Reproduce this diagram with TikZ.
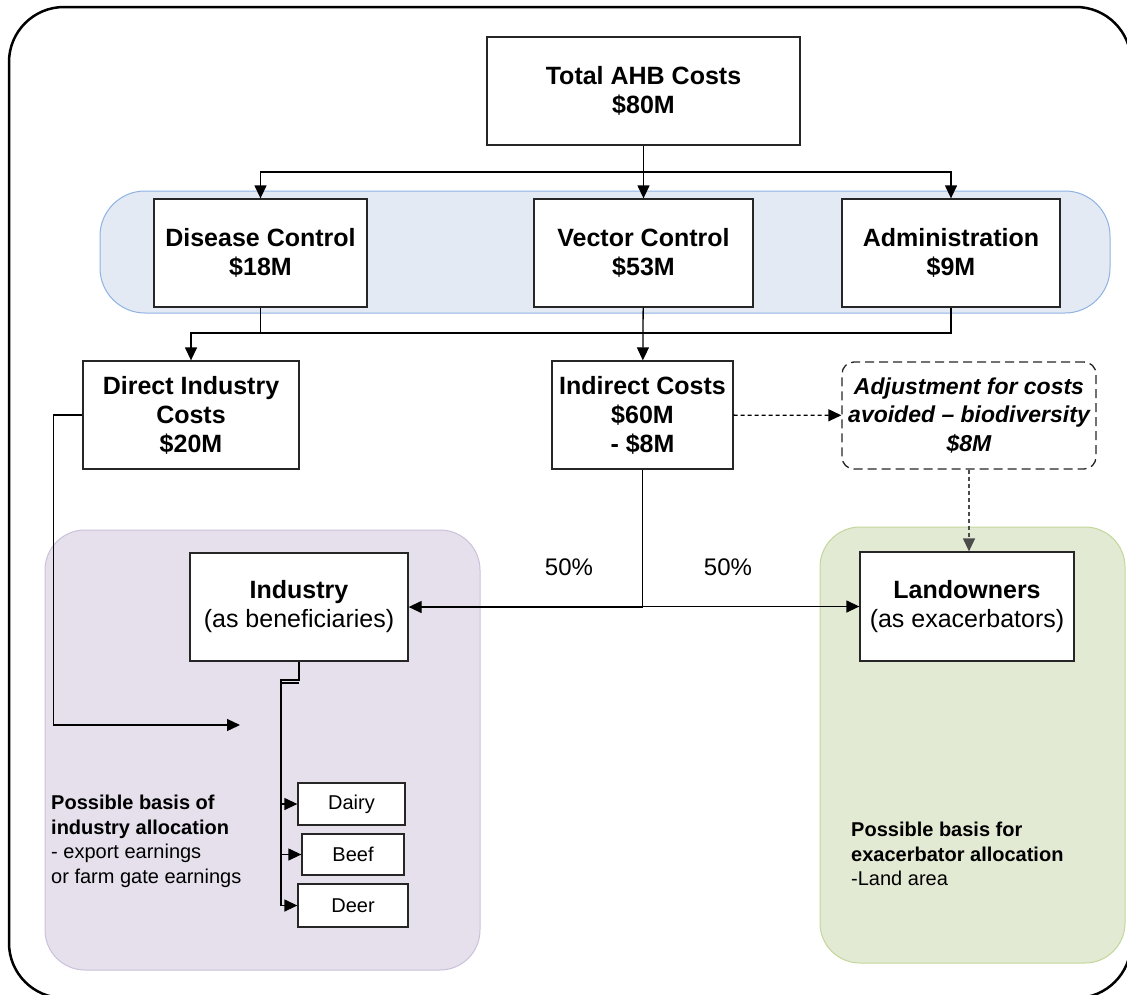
\documentclass[tikz,border=0pt]{standalone}
\usepackage{fontspec}
\setmainfont{Liberation Sans}
\usetikzlibrary{arrows.meta}
\definecolor{bandfill}{HTML}{E4EAF4}
\definecolor{bandline}{HTML}{8DB3E2}
\definecolor{indfill}{HTML}{E5E0EC}
\definecolor{indline}{HTML}{CCC1DA}
\definecolor{landfill}{HTML}{E3EAD4}
\definecolor{landline}{HTML}{C3D69B}

\begin{document}
\begin{tikzpicture}[x=1pt,y=-1pt,
    box/.style={draw=black!85,fill=white,line width=1.3pt,align=center,inner sep=0pt,
        font=\bfseries\fontsize{25}{29}\selectfont},
    party/.style={box,font=\fontsize{25}{29}\selectfont},
    sector/.style={draw=black!85,fill=white,line width=1.3pt,inner sep=0pt,
        font=\fontsize{20}{24}\selectfont},
    note/.style={align=left,inner sep=0pt,font=\fontsize{20}{24.5}\selectfont},
    link/.style={line width=1.3pt},
    arr/.style={link,-{Triangle[length=13pt,width=12pt]}},
    dasharr/.style={arr,dash pattern=on 4pt off 3pt}]
    \useasboundingbox (0,0) rectangle (1127,994);
    \clip (0,0) rectangle (1127,994);
    % outer frame
    \draw[line width=2.5pt,rounded corners=55pt] (9,7) rectangle (1131,998);
    % coloured zones
    \draw[fill=bandfill,draw=bandline,line width=1pt,rounded corners=45pt] (100,191) rectangle (1110,313);
    \draw[fill=indfill,draw=indline,line width=1pt,rounded corners=40pt] (45,530) rectangle (480,970);
    \draw[fill=landfill,draw=landline,line width=1pt,rounded corners=40pt] (820,527) rectangle (1125,963);
    % cost boxes
    \node[box,minimum width=313pt,minimum height=108pt] (total) at (643.5,91) {Total AHB Costs\\\$80M};
    \node[box,minimum width=213pt,minimum height=108pt] (disease) at (260.5,253) {Disease Control\\\$18M};
    \node[box,minimum width=219pt,minimum height=108pt] (vector) at (643.5,253) {Vector Control\\\$53M};
    \node[box,minimum width=218pt,minimum height=108pt] (admin) at (951,253) {Administration\\\$9M};
    \node[box,minimum width=216pt,minimum height=108pt] (direct) at (191,415) {Direct Industry\\Costs\\\$20M};
    \node[box,minimum width=181pt,minimum height=108pt] (indirect) at (642.5,415) {Indirect Costs\\\$60M\\- \$8M};
    \node[box,font=\bfseries\itshape\fontsize{23}{28.5}\selectfont,dash pattern=on 9pt off 5pt,
        rounded corners=12pt,minimum width=254pt,minimum height=107pt] (adjust) at (969,415.5)
        {Adjustment for costs\\avoided \textendash{} biodiversity\\\$8M};
    % who pays
    \node[party,minimum width=218pt,minimum height=108pt] (industry) at (299,607) {\textbf{Industry}\\(as beneficiaries)};
    \node[party,minimum width=214pt,minimum height=109pt] (landowners) at (967,606.5) {\textbf{Landowners}\\(as exacerbators)};
    \node[font=\fontsize{24}{29}\selectfont] (pctl) at (569,567) {50\%};
    \node[font=\fontsize{24}{29}\selectfont] (pctr) at (728,567) {50\%};
    % sectors
    \node[sector,minimum width=107pt,minimum height=42pt] (dairy) at (351.5,804) {Dairy};
    \node[sector,minimum width=102pt,minimum height=41pt] (beef) at (353,854.5) {Beef};
    \node[sector,minimum width=110pt,minimum height=43pt] (deer) at (353,905.5) {Deer};
    % notes
    \node[note,anchor=west] (indnote) at (51,841.5)
        {\textbf{Possible basis of}\\\textbf{industry allocation}\\- export earnings\\or farm gate earnings};
    \node[note,anchor=west] (landnote) at (851,854)
        {\textbf{Possible basis for}\\\textbf{exacerbator allocation}\\-Land area};
    % connectors
    \coordinate (bustop) at (643.5,172);
    \coordinate (busmid) at (643.5,333);
    \draw[arr] (total) -- (vector);
    \draw[arr] (bustop) -| (disease.north);
    \draw[arr] (bustop) -| (admin.north);
    \draw[arr] (disease.south) |- (direct.north |- busmid) -- (direct.north);
    \draw[link] (direct.north |- busmid) -- (admin.south |- busmid) -- (admin.south);
    \draw[arr] (vector) -- (indirect);
    \draw[dasharr] (indirect) -- (adjust);
    \draw[dasharr,draw=black!70] (adjust.south) -- (adjust.south |- landowners.north);
    \draw[arr] (indirect.south) |- (industry.east);
    \draw[arr] (indirect.south) |- (landowners.west);
    \coordinate (directend) at (240,725);
    \draw[arr] (direct.west) -- ++(-29,0) |- (directend);
    \coordinate (trunk) at (281,680);
    \draw[arr] (industry.south) |- (trunk) |- (deer.west);
    \draw[link] (trunk) ++(0,3) -- ++(18,0);
    \foreach \s in {dairy,beef}
        \draw[arr] (trunk) |- (\s.west);
\end{tikzpicture}
\end{document}
